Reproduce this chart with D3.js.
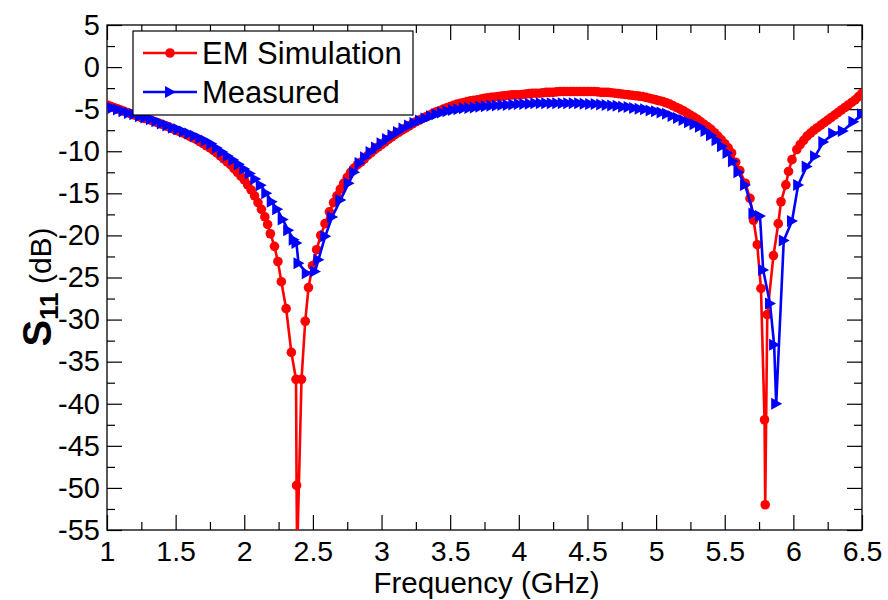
<!DOCTYPE html>
<html><head><meta charset="utf-8">
<script src="https://cdn.jsdelivr.net/npm/d3@7"></script>
<style>body{margin:0;background:#fff}</style>
</head><body>
<svg id="chart" width="888" height="600"></svg>
<script>
// ---- data ----
const simFreq = [1.000,1.025,1.050,1.075,1.100,1.125,1.150,1.175,1.200,1.225,1.250,1.275,1.300,1.325,1.350,1.375,1.400,1.425,1.450,1.475,
  1.500,1.525,1.550,1.575,1.600,1.625,1.650,1.675,1.700,1.725,1.750,1.775,1.800,1.825,1.850,1.875,1.900,1.925,1.950,1.975,
  2.000,2.025,2.050,2.075,2.100,2.125,2.150,2.170,2.190,2.220,2.245,2.270,2.305,2.343,2.377,2.381,2.385,2.417,2.444,2.468,
  2.497,2.527,2.557,2.588,2.620,2.650,2.675,2.700,2.725,2.750,2.775,2.800,2.825,2.850,2.875,2.900,2.925,2.950,2.975,
  3.000,3.025,3.050,3.075,3.100,3.125,3.150,3.175,3.200,3.225,3.250,3.275,3.300,3.325,3.350,3.375,3.400,3.425,3.450,3.475,
  3.500,3.525,3.550,3.575,3.600,3.625,3.650,3.675,3.700,3.725,3.750,3.775,3.800,3.825,3.850,3.875,3.900,3.925,3.950,3.975,
  4.000,4.025,4.050,4.075,4.100,4.125,4.150,4.175,4.200,4.225,4.250,4.275,4.300,4.325,4.350,4.375,4.400,4.425,4.450,4.475,
  4.500,4.525,4.550,4.575,4.600,4.625,4.650,4.675,4.700,4.725,4.750,4.775,4.800,4.825,4.850,4.875,4.900,4.925,4.950,4.975,
  5.000,5.025,5.050,5.075,5.100,5.125,5.150,5.175,5.200,5.225,5.250,5.275,5.300,5.325,5.350,5.375,5.400,5.425,5.450,5.475,
  5.500,5.525,5.550,5.580,5.610,5.650,5.684,5.710,5.737,5.764,5.790,5.795,5.810,5.855,5.890,5.910,5.945,5.965,5.990,
  6.025,6.050,6.075,6.100,6.125,6.150,6.175,6.200,6.225,6.250,6.275,6.300,6.325,6.350,6.375,6.400,6.425,6.450,6.475,6.500];
const simS11 = [-4.5,-4.65,-4.8,-4.95,-5.1,-5.25,-5.4,-5.55,-5.7,-5.85,-6.0,-6.1,-6.2,-6.35,-6.5,-6.65,-6.8,-6.95,-7.1,-7.3,
  -7.5,-7.65,-7.8,-8.0,-8.2,-8.4,-8.6,-8.85,-9.1,-9.35,-9.6,-9.9,-10.2,-10.55,-10.9,-11.25,-11.6,-12.05,-12.5,-12.95,
  -13.4,-14.0,-14.6,-15.3,-16.1,-16.9,-17.8,-18.7,-19.8,-21.3,-23.1,-25.5,-28.7,-33.9,-37.1,-49.7,-58,-37.1,-30.2,-26.2,
  -23.6,-21.7,-20.0,-18.6,-17.2,-16.1,-15.3,-14.5,-13.8,-13.1,-12.5,-12.0,-11.6,-11.3,-10.9,-10.5,-10.15,-9.8,-9.5,
  -9.2,-8.9,-8.6,-8.3,-8.0,-7.75,-7.5,-7.25,-7.0,-6.75,-6.5,-6.3,-6.1,-5.9,-5.7,-5.5,-5.3,-5.15,-5.0,-4.85,
  -4.7,-4.55,-4.4,-4.3,-4.2,-4.1,-4.0,-3.95,-3.9,-3.8,-3.7,-3.65,-3.6,-3.55,-3.5,-3.45,-3.4,-3.35,-3.3,-3.3,
  -3.3,-3.25,-3.2,-3.15,-3.1,-3.1,-3.1,-3.05,-3.0,-3.0,-3.0,-2.95,-2.9,-2.9,-2.9,-2.9,-2.9,-2.9,-2.9,-2.9,
  -2.9,-2.9,-2.9,-2.95,-3.0,-3.0,-3.0,-3.05,-3.1,-3.15,-3.2,-3.25,-3.3,-3.35,-3.4,-3.45,-3.5,-3.6,-3.7,-3.8,
  -3.9,-4.0,-4.1,-4.25,-4.4,-4.6,-4.8,-5.0,-5.2,-5.45,-5.7,-5.95,-6.2,-6.5,-6.8,-7.1,-7.4,-7.8,-8.2,-8.65,
  -9.1,-9.6,-10.2,-11.3,-12.3,-13.8,-15.6,-18.2,-21.1,-26.3,-41.9,-52.0,-29.4,-22.4,-18.6,-16.0,-14.0,-12.4,-11.0,
  -9.8,-9.2,-8.7,-8.2,-7.85,-7.5,-7.2,-6.9,-6.6,-6.3,-6.0,-5.7,-5.4,-5.1,-4.8,-4.5,-4.2,-3.9,-3.5,-3.1];

const measFreq = [1.00,1.04,1.08,1.12,1.16,1.20,1.24,1.28,1.32,1.36,1.40,1.44,1.48,1.52,1.56,1.60,1.64,1.68,1.72,1.76,
  1.80,1.84,1.88,1.92,1.96,2.00,2.04,2.08,2.12,2.16,2.20,2.24,2.28,2.32,2.36,2.38,2.395,2.455,2.515,2.54,
  2.59,2.64,2.70,2.76,2.80,2.84,2.88,2.92,2.96,3.00,3.04,3.08,3.12,3.16,3.20,3.24,3.28,3.32,3.36,3.40,
  3.44,3.48,3.52,3.56,3.60,3.64,3.68,3.72,3.76,3.80,3.84,3.88,3.92,3.96,4.00,4.04,4.08,4.12,4.16,4.20,
  4.24,4.28,4.32,4.36,4.40,4.44,4.48,4.52,4.56,4.60,4.64,4.68,4.72,4.76,4.80,4.84,4.88,4.92,4.96,5.00,
  5.04,5.08,5.12,5.16,5.20,5.24,5.28,5.32,5.36,5.40,5.44,5.48,5.52,5.56,5.60,5.648,5.709,5.757,5.78,5.83,
  5.86,5.875,5.93,5.99,6.035,6.097,6.158,6.218,6.29,6.36,6.437,6.50];
const measS11 = [-4.6,-4.85,-5.05,-5.25,-5.45,-5.6,-5.85,-6.0,-6.2,-6.45,-6.7,-6.95,-7.2,-7.4,-7.65,-7.9,-8.15,-8.45,-8.75,-9.1,
  -9.6,-10.1,-10.55,-11.05,-11.55,-12.1,-12.65,-13.3,-14.05,-15.0,-16.0,-16.9,-18.1,-19.4,-20.5,-20.9,-23.3,-24.5,-24.3,-22.9,
  -20.1,-17.8,-15.8,-13.8,-12.5,-11.4,-10.7,-10.1,-9.55,-9.05,-8.55,-8.1,-7.7,-7.3,-6.95,-6.65,-6.35,-6.1,-5.85,-5.6,
  -5.4,-5.25,-5.1,-5.0,-4.9,-4.85,-4.8,-4.7,-4.65,-4.6,-4.55,-4.5,-4.5,-4.45,-4.4,-4.4,-4.35,-4.3,-4.3,-4.3,
  -4.3,-4.3,-4.3,-4.3,-4.3,-4.3,-4.35,-4.4,-4.4,-4.45,-4.5,-4.55,-4.6,-4.7,-4.75,-4.85,-4.95,-5.0,-5.15,-5.25,
  -5.4,-5.55,-5.8,-6.05,-6.3,-6.55,-6.8,-7.1,-7.6,-8.1,-8.7,-9.4,-10.2,-11.2,-12.5,-14.0,-17.4,-17.7,-24.1,-28.1,
  -33.0,-40.0,-20.6,-18.3,-14.0,-11.8,-10.6,-8.9,-7.9,-7.6,-6.5,-5.6];

const xTicks = [1,1.5,2,2.5,3,3.5,4,4.5,5,5.5,6,6.5];
const xMinor = [1.25,1.75,2.25,2.75,3.25,3.75,4.25,4.75,5.25,5.75,6.25];
const yTicks = [5,0,-5,-10,-15,-20,-25,-30,-35,-40,-45,-50,-55];
const yMinor = [2.5,-2.5,-7.5,-12.5,-17.5,-22.5,-27.5,-32.5,-37.5,-42.5,-47.5,-52.5];
const seriesNames = ["EM Simulation","Measured"];
const seriesColors = ["#ff0000","#0000ff"];
const xTitle = "Frequency (GHz)";

// ---- layout ----
const L=107, R=862, T=25, B=530;
const FONT = "'Liberation Sans', Arial, sans-serif";
const svg = d3.select('#chart');
svg.append('rect').attr('width',888).attr('height',600).attr('fill','#fff');

const x = d3.scaleLinear().domain([1,6.5]).range([L,R]);
const y = d3.scaleLinear().domain([-55,5]).range([B,T]);

svg.append('clipPath').attr('id','clip').append('rect')
  .attr('x',L).attr('y',T).attr('width',R-L).attr('height',B-T);

function styleAxis(g, fs){ g.select('.domain').remove(); g.selectAll('line').attr('stroke','#000').attr('stroke-width',1.2);
  g.selectAll('text').attr('font-family',FONT).attr('font-size',fs||29).attr('fill','#000'); }

svg.append('g').attr('transform',`translate(0,${B})`)
  .call(d3.axisBottom(x).tickValues(xTicks).tickSize(-15).tickPadding(11).tickFormat(d=>String(d))).call(g=>styleAxis(g,28.5));
svg.append('g').attr('transform',`translate(0,${B})`)
  .call(d3.axisBottom(x).tickValues(xMinor).tickSize(-8).tickFormat('')).call(g=>styleAxis(g));
svg.append('g').attr('transform',`translate(0,${T})`)
  .call(d3.axisTop(x).tickValues(xTicks).tickSize(-15).tickFormat('')).call(g=>styleAxis(g));
svg.append('g').attr('transform',`translate(0,${T})`)
  .call(d3.axisTop(x).tickValues(xMinor).tickSize(-8).tickFormat('')).call(g=>styleAxis(g));
svg.append('g').attr('transform',`translate(${L},0)`)
  .call(d3.axisLeft(y).tickValues(yTicks).tickSize(-15).tickPadding(7).tickFormat(d=>String(d))).call(g=>styleAxis(g,29));
svg.append('g').attr('transform',`translate(${L},0)`)
  .call(d3.axisLeft(y).tickValues(yMinor).tickSize(-8).tickFormat('')).call(g=>styleAxis(g));
svg.append('g').attr('transform',`translate(${R},0)`)
  .call(d3.axisRight(y).tickValues(yTicks).tickSize(-15).tickFormat('')).call(g=>styleAxis(g));
svg.append('g').attr('transform',`translate(${R},0)`)
  .call(d3.axisRight(y).tickValues(yMinor).tickSize(-8).tickFormat('')).call(g=>styleAxis(g));

svg.append('rect').attr('x',L).attr('y',T).attr('width',R-L).attr('height',B-T)
  .attr('fill','none').attr('stroke','#000').attr('stroke-width',1.3);

// series
const plot = svg.append('g').attr('clip-path','url(#clip)');
const line = d3.line().x(d=>x(d[0])).y(d=>y(d[1]));
const sim = simFreq.map((f,i)=>[f,simS11[i]]);
const meas = measFreq.map((f,i)=>[f,measS11[i]]);
const triPath = "M-5,-6L6,0L-5,6Z";

plot.append('path').datum(sim).attr('d',line).attr('fill','none').attr('stroke',seriesColors[0]).attr('stroke-width',2.6);
plot.selectAll('circle.sim').data(sim).join('circle').attr('class','sim')
  .attr('cx',d=>x(d[0])).attr('cy',d=>y(d[1])).attr('r',4.8).attr('fill',seriesColors[0]);

plot.append('path').datum(meas).attr('d',line).attr('fill','none').attr('stroke',seriesColors[1]).attr('stroke-width',2.6);
plot.selectAll('path.meas').data(meas).join('path').attr('class','meas')
  .attr('d',triPath).attr('transform',d=>`translate(${x(d[0])},${y(d[1])})`).attr('fill',seriesColors[1]);

// legend
const lg = svg.append('g');
lg.append('rect').attr('x',133).attr('y',31).attr('width',280).attr('height',84)
  .attr('fill','#fff').attr('stroke','#000').attr('stroke-width',1.2);
const rows=[53,92];
seriesNames.forEach((name,i)=>{
  lg.append('line').attr('x1',143).attr('x2',197).attr('y1',rows[i]).attr('y2',rows[i])
    .attr('stroke',seriesColors[i]).attr('stroke-width',2.6);
  if(i===0) lg.append('circle').attr('cx',170).attr('cy',rows[i]).attr('r',4.8).attr('fill',seriesColors[i]);
  else lg.append('path').attr('d',triPath).attr('transform',`translate(170,${rows[i]})`).attr('fill',seriesColors[i]);
  lg.append('text').attr('x',202).attr('y',rows[i]).attr('dy','0.36em').attr('font-family',FONT)
    .attr('font-size',31).attr('fill','#000').text(name);
});

// axis titles
svg.append('text').attr('x',(L+R)/2+2).attr('y',593).attr('text-anchor','middle')
  .attr('font-family',FONT).attr('font-size',29.5).attr('fill','#000').text(xTitle);

const yt = svg.append('text').attr('transform',`translate(51,287) rotate(-90)`)
  .attr('text-anchor','middle').attr('font-family',FONT).attr('fill','#000');
yt.append('tspan').attr('font-weight','bold').attr('font-size',40).text('S');
yt.append('tspan').attr('font-weight','bold').attr('font-size',26).attr('dy',7).text('11');
yt.append('tspan').attr('font-size',30).attr('dy',-7).text(' (dB)');
</script>
</body></html>
